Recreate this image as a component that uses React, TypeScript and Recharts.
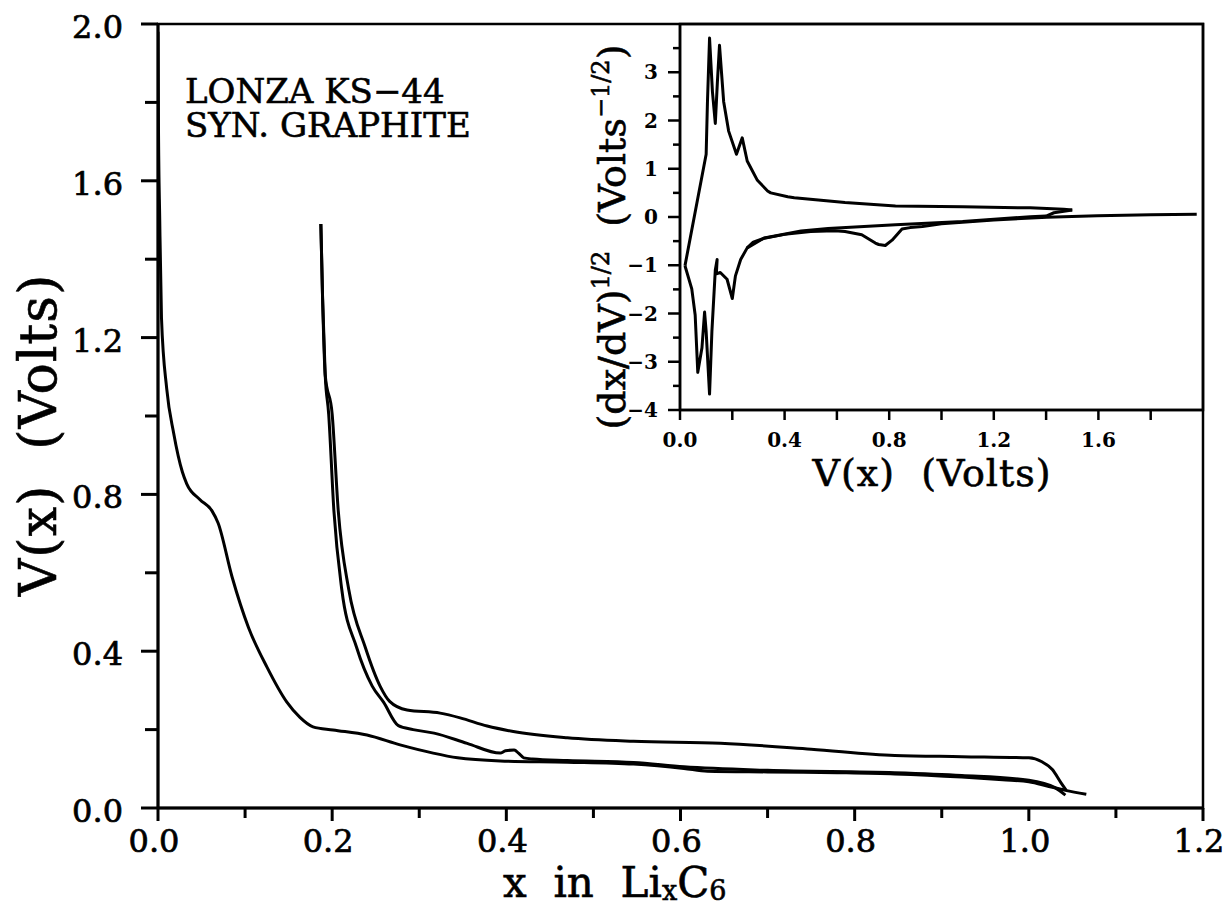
import React from 'react';
import { LineChart, Line, XAxis, YAxis, ReferenceArea } from 'recharts';

// main panel: V(x) against x in LixC6
const dischargeOneX = [0, 0.0005, 0.002, 0.004, 0.010, 0.018, 0.028, 0.033, 0.048, 0.062, 0.069, 0.085, 0.104, 0.125, 0.148, 0.163, 0.178, 0.201, 0.240, 0.278, 0.316, 0.344, 0.393, 0.470, 0.546, 0.604, 0.631, 0.700, 0.780, 0.846, 0.923, 0.970, 1.000, 1.023, 1.042, 1.066];
const dischargeOneV = [1.98, 1.75, 1.50, 1.25, 1.07, 0.956, 0.857, 0.827, 0.787, 0.758, 0.727, 0.59, 0.46, 0.36, 0.27, 0.231, 0.207, 0.199, 0.186, 0.161, 0.140, 0.128, 0.120, 0.117, 0.112, 0.101, 0.094, 0.092, 0.090, 0.087, 0.079, 0.072, 0.067, 0.055, 0.045, 0.035];

const chargeOneX = [0.187, 0.189, 0.192, 0.200, 0.207, 0.219, 0.238, 0.255, 0.266, 0.286, 0.324, 0.347, 0.378, 0.408, 0.470, 0.546, 0.646, 0.750, 0.846, 0.923, 1.000, 1.015, 1.027, 1.037, 1.043];
const chargeOneV = [1.49, 1.30, 1.105, 1.005, 0.758, 0.558, 0.41, 0.311, 0.272, 0.250, 0.242, 0.230, 0.209, 0.195, 0.179, 0.170, 0.165, 0.150, 0.134, 0.131, 0.128, 0.118, 0.098, 0.064, 0.045];

const dischargeTwoX = [0.187, 0.189, 0.192, 0.196, 0.202, 0.211, 0.228, 0.246, 0.259, 0.276, 0.293, 0.317, 0.355, 0.393, 0.399, 0.409, 0.414, 0.420, 0.430, 0.470, 0.546, 0.604, 0.700, 0.846, 0.923, 1.000, 1.030, 1.042];
const dischargeTwoV = [1.49, 1.30, 1.105, 1.005, 0.758, 0.558, 0.41, 0.311, 0.27, 0.21, 0.2, 0.191, 0.165, 0.14, 0.146, 0.148, 0.14, 0.128, 0.125, 0.121, 0.116, 0.105, 0.096, 0.090, 0.083, 0.071, 0.052, 0.033];

// inset: (dx/dV)^1/2 against V(x)
const insetDischargeOneV = [1.976, 1.80, 1.596, 1.403, 1.20, 1.0, 0.927, 0.88, 0.849, 0.811, 0.785, 0.76, 0.747, 0.695, 0.631, 0.592, 0.50, 0.40, 0.322, 0.28, 0.257];
const insetDischargeOneD = [0.055, 0.045, 0.027, -0.007, -0.06, -0.14, -0.197, -0.22, -0.25, -0.48, -0.59, -0.57, -0.54, -0.367, -0.30, -0.286, -0.30, -0.36, -0.44, -0.52, -0.64];

const insetChargeV = [0.019, 0.100, 0.105, 0.113, 0.124, 0.135, 0.143, 0.151, 0.167, 0.186, 0.216, 0.238, 0.257, 0.296, 0.335, 0.347, 0.412, 0.437, 0.631, 0.824, 1.081, 1.339, 1.467, 1.50];
const insetChargeD = [-1.01, 1.30, 2.39, 3.71, 2.60, 1.94, 2.80, 3.56, 2.39, 1.78, 1.30, 1.64, 1.16, 0.76, 0.54, 0.50, 0.42, 0.40, 0.30, 0.23, 0.21, 0.19, 0.163, 0.143];

const insetDischargeTwoV = [1.50, 1.43, 1.40, 1.339, 1.081, 0.824, 0.566, 0.463, 0.322, 0.257, 0.232, 0.212, 0.200, 0.180, 0.154, 0.139, 0.142, 0.135, 0.122, 0.113, 0.100, 0.094, 0.084, 0.068, 0.058, 0.045, 0.019];
const insetDischargeTwoD = [0.143, 0.088, 0.02, 0.007, -0.095, -0.163, -0.24, -0.29, -0.435, -0.64, -0.88, -1.22, -1.69, -1.29, -1.15, -1.18, -0.88, -1.10, -2.37, -3.67, -2.37, -1.97, -2.71, -3.22, -2.03, -1.49, -1.01];

const mainXTicks = [0, 0.1, 0.2, 0.3, 0.4, 0.5, 0.6, 0.7, 0.8, 0.9, 1.0, 1.1, 1.2];
const mainXLabels = ['0.0', '', '0.2', '', '0.4', '', '0.6', '', '0.8', '', '1.0', '', '1.2'];
const mainYTicks = [0, 0.2, 0.4, 0.6, 0.8, 1.0, 1.2, 1.4, 1.6, 1.8, 2.0];
const mainYLabels = ['0.0', '', '0.4', '', '0.8', '', '1.2', '', '1.6', '', '2.0'];

const insetXTicks = [0, 0.2, 0.4, 0.6, 0.8, 1.0, 1.2, 1.4, 1.6, 1.8];
const insetXLabels = ['0.0', '', '0.4', '', '0.8', '', '1.2', '', '1.6', ''];
const insetYTicks = [-4, -3.5, -3, -2.5, -2, -1.5, -1, -0.5, 0, 0.5, 1, 1.5, 2, 2.5, 3, 3.5];
const insetYLabels = ['\u22124', '', '\u22123', '', '\u22122', '', '\u22121', '', '0', '', '1', '', '2', '', '3', ''];

const toPoints = (xs: number[], ys: number[]) => xs.map((x, i) => ({ x, v: ys[i] }));

const FONT = '"DejaVu Serif", serif';
const INK = '0.6px #000';

const MainXTick = (props: any) => {
  const { x, y, index } = props;
  const label = mainXLabels[index];
  return (
    <g>
      <line x1={x} y1={y} x2={x} y2={y + (label ? 13 : 10)} stroke="#000" strokeWidth={3} />
      {label && (
        <text x={x - 4} y={y + 44} textAnchor="middle" fontFamily={FONT} fontSize={32} fill="#000" stroke="#000" strokeWidth={0.7}>
          {label}
        </text>
      )}
    </g>
  );
};

const MainYTick = (props: any) => {
  const { x, y, index } = props;
  const label = mainYLabels[index];
  return (
    <g>
      <line x1={x} y1={y} x2={x - (label ? 17 : 13)} y2={y} stroke="#000" strokeWidth={3} />
      {label && (
        <text x={x - 35} y={y + 14} textAnchor="end" fontFamily={FONT} fontSize={32} fill="#000" stroke="#000" strokeWidth={0.7}>
          {label}
        </text>
      )}
    </g>
  );
};

const InsetXTick = (props: any) => {
  const { x, y, index } = props;
  const label = insetXLabels[index];
  return (
    <g>
      <line x1={x} y1={y} x2={x} y2={y + 10} stroke="#000" strokeWidth={2.5} />
      {label && (
        <text x={x} y={y + 37} textAnchor="middle" fontFamily={FONT} fontWeight="bold" fontSize={20} fill="#000">
          {label}
        </text>
      )}
    </g>
  );
};

const InsetYTick = (props: any) => {
  const { x, y, index } = props;
  const label = insetYLabels[index];
  return (
    <g>
      <line x1={x} y1={y} x2={x - (label ? 12 : 7)} y2={y} stroke="#000" strokeWidth={2.5} />
      {label && (
        <text x={x - 22} y={y + 7} textAnchor="end" fontFamily={FONT} fontWeight="bold" fontSize={20} fill="#000">
          {label}
        </text>
      )}
    </g>
  );
};

export default function App() {
  const curve = { stroke: '#000', strokeWidth: 3, dot: false, isAnimationActive: false, strokeLinejoin: 'round' as const };
  return (
    <div style={{ position: 'absolute', left: 0, top: 0, width: 1231, height: 906, background: '#fff', fontFamily: FONT, color: '#000', overflow: 'hidden' }}>
      <div style={{ position: 'absolute', left: 0, top: 0 }}>
        <LineChart width={1231} height={906} margin={{ top: 24, right: 28, left: 58, bottom: 38 }}>
          <XAxis type="number" dataKey="x" domain={[0, 1.2]} ticks={mainXTicks} interval={0} tickSize={0} tickMargin={0}
            tick={MainXTick} tickLine={false} axisLine={{ stroke: '#000', strokeWidth: 3 }} height={60} allowDataOverflow />
          <YAxis type="number" domain={[0, 2]} ticks={mainYTicks} interval={0} tickSize={0} tickMargin={0}
            tick={MainYTick} tickLine={false} axisLine={{ stroke: '#000', strokeWidth: 3 }} width={100} allowDataOverflow />
          <ReferenceArea x1={0} x2={1.2} y1={0} y2={2} fill="none" stroke="#000" strokeWidth={2.5} />
          <Line type="monotone" data={toPoints(dischargeOneX, dischargeOneV)} dataKey="v" {...curve} />
          <Line type="monotone" data={toPoints(chargeOneX, chargeOneV)} dataKey="v" {...curve} />
          <Line type="monotone" data={toPoints(dischargeTwoX, dischargeTwoV)} dataKey="v" {...curve} />
        </LineChart>
      </div>

      <div style={{ position: 'absolute', left: 580, top: 0 }}>
        <LineChart width={651} height={470} margin={{ top: 24, right: 28, left: 40, bottom: 20 }}>
          <XAxis type="number" dataKey="x" domain={[0, 2]} ticks={insetXTicks} interval={0} tickSize={0} tickMargin={0}
            tick={InsetXTick} tickLine={false} axisLine={{ stroke: '#000', strokeWidth: 2.5 }} height={40} allowDataOverflow />
          <YAxis type="number" domain={[-4, 4]} ticks={insetYTicks} interval={0} tickSize={0} tickMargin={0}
            tick={InsetYTick} tickLine={false} axisLine={{ stroke: '#000', strokeWidth: 2.5 }} width={60} allowDataOverflow />
          <ReferenceArea x1={0} x2={2} y1={-4} y2={4} fill="none" stroke="#000" strokeWidth={2.5} />
          <Line data={toPoints(insetDischargeOneV, insetDischargeOneD)} dataKey="v" {...curve} />
          <Line data={toPoints(insetChargeV, insetChargeD)} dataKey="v" {...curve} />
          <Line data={toPoints(insetDischargeTwoV, insetDischargeTwoD)} dataKey="v" {...curve} />
        </LineChart>
      </div>

      <div style={{ position: 'absolute', left: 185, top: 74, fontSize: 34, lineHeight: '34px', whiteSpace: 'pre', WebkitTextStroke: INK }}>
        {'LONZA KS\u221244\nSYN. GRAPHITE'}
      </div>

      <div style={{ position: 'absolute', left: 38, top: 435, fontSize: 52, lineHeight: '52px', whiteSpace: 'pre', letterSpacing: 1,
        WebkitTextStroke: INK, transform: 'translate(-50%, -50%) rotate(-90deg)' }}>
        {'V(x)  (Volts)'}
      </div>

      <div style={{ position: 'absolute', left: 503, top: 862, fontSize: 42, lineHeight: '42px', whiteSpace: 'pre', WebkitTextStroke: INK }}>
        {'x  in  Li'}
        <sub style={{ fontSize: 27, lineHeight: 0, verticalAlign: '-3px' }}>x</sub>
        {'C'}
        <sub style={{ fontSize: 27, lineHeight: 0, verticalAlign: '-3px' }}>6</sub>
      </div>

      <div style={{ position: 'absolute', left: 932, top: 454, fontSize: 38, lineHeight: '38px', whiteSpace: 'pre', letterSpacing: 1,
        WebkitTextStroke: INK, transform: 'translateX(-50%)' }}>
        {'V(x)  (Volts)'}
      </div>

      <div style={{ position: 'absolute', left: 612, top: 237, fontSize: 38, lineHeight: '38px', whiteSpace: 'pre',
        WebkitTextStroke: INK, transform: 'translate(-50%, -50%) rotate(-90deg)' }}>
        {'(dx/dV)'}
        <sup style={{ fontSize: 24, lineHeight: 0, verticalAlign: '16px' }}>1/2</sup>
        {'  (Volts'}
        <sup style={{ fontSize: 24, lineHeight: 0, verticalAlign: '16px' }}>{'\u22121/2'}</sup>
        {')'}
      </div>
    </div>
  );
}
